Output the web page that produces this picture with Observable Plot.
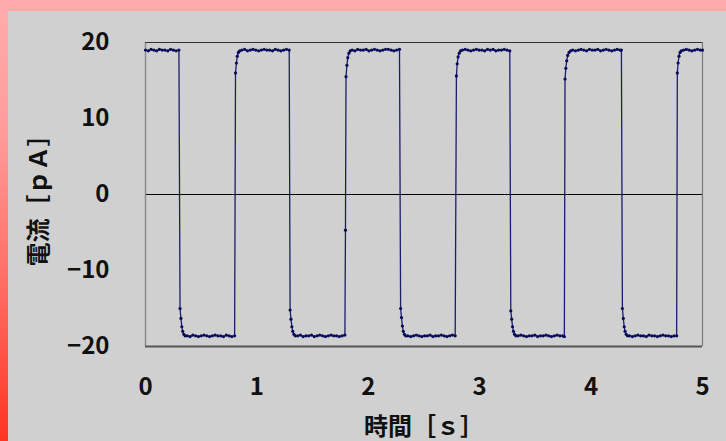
<!DOCTYPE html>
<html><head><meta charset="utf-8">
<script src="https://cdn.jsdelivr.net/npm/d3@7"></script>
<script src="https://cdn.jsdelivr.net/npm/@observablehq/plot@0.6"></script>
<style>
html,body{margin:0;padding:0;background:#d0d0d0;}
#frame{position:relative;width:726px;height:441px;overflow:hidden;background:linear-gradient(to bottom,#ffacac 0%,#ff9c9a 30%,#ff6c62 65%,#ff3422 100%);}
#panel{position:absolute;left:8px;top:11px;right:0;bottom:0;background:#d0d0d0;}
#chart{position:absolute;left:0;top:0;}
</style></head><body>
<div id="frame"><div id="panel"></div><div id="chart"></div></div>
<script>
// Time [s]
const time = [
  0.000,0.025,0.050,0.075,0.100,0.125,0.150,0.175,0.200,0.225,0.250,0.275,0.300,
  0.310,0.318,0.326,0.334,0.344,0.356,
  0.375,0.400,0.425,0.450,0.475,0.500,0.525,0.550,0.575,0.600,0.625,0.650,0.675,0.700,0.725,0.750,0.775,0.800,
  0.808,0.816,0.824,0.834,0.846,
  0.865,0.890,0.915,0.940,0.965,0.990,1.015,1.040,1.065,1.090,1.115,1.140,1.165,1.190,1.215,1.240,1.265,1.290,
  1.298,1.306,1.314,1.322,1.332,1.344,
  1.365,1.390,1.415,1.440,1.465,1.490,1.515,1.540,1.565,1.590,1.615,1.640,1.665,1.690,1.715,1.740,1.765,1.790,
  1.795,1.800,1.808,1.816,1.826,1.838,
  1.855,1.880,1.905,1.930,1.955,1.980,2.005,2.030,2.055,2.080,2.105,2.130,2.155,2.180,2.205,2.230,2.255,2.280,
  2.290,2.298,2.306,2.314,2.324,2.336,
  2.355,2.380,2.405,2.430,2.455,2.480,2.505,2.530,2.555,2.580,2.605,2.630,2.655,2.680,2.705,2.730,2.755,2.780,
  2.791,2.798,2.806,2.816,2.828,
  2.845,2.870,2.895,2.920,2.945,2.970,2.995,3.020,3.045,3.070,3.095,3.120,3.145,3.170,3.195,3.220,3.245,3.270,
  3.279,3.287,3.295,3.303,3.313,3.325,
  3.345,3.370,3.395,3.420,3.445,3.470,3.495,3.520,3.545,3.570,3.595,3.620,3.645,3.670,3.695,3.720,3.745,3.760,
  3.766,3.773,3.781,3.790,3.802,3.816,
  3.835,3.860,3.885,3.910,3.935,3.960,3.985,4.010,4.035,4.060,4.085,4.110,4.135,4.160,4.185,4.210,4.235,4.260,4.272,
  4.281,4.289,4.297,4.305,4.315,4.327,
  4.345,4.370,4.395,4.420,4.445,4.470,4.495,4.520,4.545,4.570,4.595,4.620,4.645,4.670,4.695,4.720,4.745,4.768,
  4.774,4.781,4.789,4.798,4.810,
  4.830,4.855,4.880,4.905,4.930,4.955,4.980,5.000
];
// Current [pA]
const current = [
  19.0,18.9,19.1,19.0,18.9,19.1,19.0,19.0,18.9,19.1,19.0,18.9,19.0,
  -15.0,-16.3,-17.4,-18.0,-18.4,-18.6,
  -18.6,-18.7,-18.5,-18.6,-18.7,-18.6,-18.5,-18.6,-18.7,-18.6,-18.5,-18.6,-18.6,-18.7,-18.5,-18.6,-18.7,-18.6,
  16.0,17.3,18.2,18.7,18.9,
  19.0,19.1,18.9,19.0,19.1,19.0,18.9,19.0,19.1,19.0,19.0,18.9,19.1,19.0,18.9,19.0,19.1,19.0,
  -15.2,-16.4,-17.4,-18.0,-18.4,-18.6,
  -18.6,-18.5,-18.7,-18.6,-18.6,-18.5,-18.7,-18.6,-18.5,-18.6,-18.7,-18.6,-18.5,-18.6,-18.6,-18.7,-18.6,-18.5,
  -4.7,15.5,17.0,18.0,18.6,18.9,
  19.0,18.9,19.1,19.0,19.0,19.1,18.9,19.0,19.1,19.0,18.9,19.0,19.1,19.1,19.0,18.9,19.0,19.1,
  -15.0,-16.2,-17.3,-18.0,-18.4,-18.6,
  -18.6,-18.7,-18.6,-18.5,-18.6,-18.7,-18.6,-18.6,-18.5,-18.7,-18.6,-18.6,-18.5,-18.6,-18.7,-18.6,-18.5,-18.6,
  15.6,17.2,18.1,18.6,18.9,
  19.0,19.1,19.0,18.9,19.0,19.1,19.0,19.0,18.9,19.1,19.0,19.1,18.9,19.0,19.0,19.1,19.0,18.9,
  -15.3,-16.4,-17.4,-18.0,-18.4,-18.6,
  -18.6,-18.5,-18.6,-18.7,-18.6,-18.6,-18.5,-18.7,-18.6,-18.6,-18.5,-18.6,-18.7,-18.6,-18.5,-18.6,-18.6,-18.7,
  15.2,16.6,17.6,18.3,18.7,18.9,
  19.0,18.9,19.0,19.1,19.0,18.9,19.1,19.0,19.0,19.1,18.9,19.0,19.1,19.0,18.9,19.0,19.1,19.0,19.0,
  -15.0,-16.3,-17.4,-18.0,-18.4,-18.6,
  -18.6,-18.7,-18.6,-18.5,-18.6,-18.6,-18.7,-18.5,-18.6,-18.6,-18.7,-18.6,-18.5,-18.6,-18.6,-18.7,-18.6,-18.6,
  16.0,17.3,18.2,18.7,18.9,
  19.0,19.1,19.0,18.9,19.0,19.1,19.0,19.0
];
const xTicks = [0, 1, 2, 3, 4, 5];
const yTicks = [-20, -10, 0, 10, 20];
const xLabel = "時間［ｓ］";
const yLabel = "電流［ｐＡ］";

const data = time.map((t, k) => ({t, i: current[k]}));
const font = "'Noto Sans CJK JP', 'Liberation Sans', sans-serif";

const chart = Plot.plot({
  width: 726,
  height: 441,
  marginLeft: 145,
  marginRight: 24,
  marginTop: 42,
  marginBottom: 95,
  style: {background: "transparent", fontFamily: font, fontSize: "24px", color: "#111", overflow: "visible"},
  x: {domain: [0, 5]},
  y: {domain: [-20, 20]},
  marks: [
    Plot.ruleY([0], {stroke: "#000", strokeWidth: 1}),
    Plot.ruleX([0], {stroke: "#8c8c8c", strokeWidth: 1.5}),
    Plot.ruleX([5], {stroke: "#7a7a7a", strokeWidth: 1.2}),
    Plot.ruleY([20], {stroke: "#333", strokeWidth: 1}),
    Plot.ruleY([-20], {stroke: "#555", strokeWidth: 2}),
    Plot.line(data, {x: "t", y: "i", stroke: "#1c1c6e", strokeWidth: 1.3}),
    Plot.dot(data, {x: "t", y: "i", r: 1.6, fill: "#0a0a5c", stroke: "none"}),
    Plot.axisX(xTicks, {tickSize: 0, tickPadding: 31, label: null, fontWeight: "bold", fill: "#111", fontSize: 24}),
    Plot.axisY(yTicks, {tickSize: 0, tickPadding: 36, label: null, fontWeight: "bold", fill: "#111", fontSize: 24}),
    Plot.text([xLabel], {frameAnchor: "bottom", dy: 81, lineAnchor: "middle", fontWeight: "bold", fontSize: 24, fill: "#111"}),
    Plot.text([yLabel], {frameAnchor: "left", dx: -106, rotate: -90, textAnchor: "middle", lineAnchor: "middle", fontWeight: "bold", fontSize: 24, fill: "#111"})
  ]
});
document.getElementById("chart").appendChild(chart);
</script>
</body></html>
